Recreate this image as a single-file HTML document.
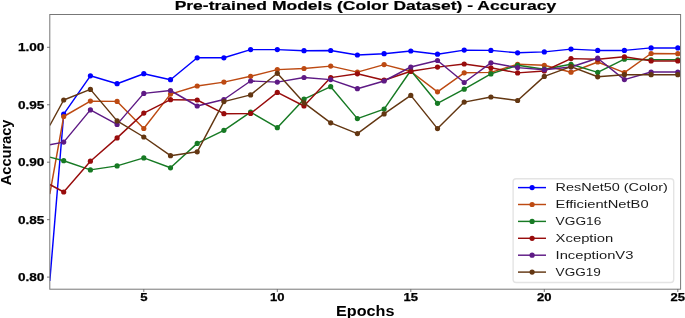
<!DOCTYPE html>
<html><head><meta charset="utf-8"><style>
html,body{margin:0;padding:0;background:#fff;width:685px;height:318px;overflow:hidden}
svg{display:block;will-change:transform}
text{font-family:"Liberation Sans",sans-serif}
</style></head><body>
<svg width="685" height="318" viewBox="0 0 685 318">
<rect width="685" height="318" fill="#fff"/>
<defs><clipPath id="ax"><rect x="49.8" y="14.5" width="630.8000000000001" height="274.7"/></clipPath></defs>
<g clip-path="url(#ax)">
<polyline points="49.80,281.00 63.70,114.20 90.40,75.80 117.10,83.70 143.80,73.70 170.50,79.70 197.20,57.80 223.90,57.80 250.60,49.60 277.30,49.60 304.00,50.70 330.70,50.50 357.40,55.00 384.10,53.70 410.80,51.00 437.50,54.20 464.20,50.10 490.90,50.40 517.60,52.80 544.30,51.90 571.00,49.10 597.70,50.40 624.40,50.40 651.10,47.90 677.80,47.90" fill="none" stroke="#0000ff" stroke-width="1.45" stroke-linejoin="round" stroke-linecap="butt"/>
<circle cx="63.7" cy="114.2" r="2.6" fill="#0000ff"/><circle cx="90.4" cy="75.8" r="2.6" fill="#0000ff"/><circle cx="117.1" cy="83.7" r="2.6" fill="#0000ff"/><circle cx="143.8" cy="73.7" r="2.6" fill="#0000ff"/><circle cx="170.5" cy="79.7" r="2.6" fill="#0000ff"/><circle cx="197.2" cy="57.8" r="2.6" fill="#0000ff"/><circle cx="223.9" cy="57.8" r="2.6" fill="#0000ff"/><circle cx="250.6" cy="49.6" r="2.6" fill="#0000ff"/><circle cx="277.3" cy="49.6" r="2.6" fill="#0000ff"/><circle cx="304.0" cy="50.7" r="2.6" fill="#0000ff"/><circle cx="330.7" cy="50.5" r="2.6" fill="#0000ff"/><circle cx="357.4" cy="55.0" r="2.6" fill="#0000ff"/><circle cx="384.1" cy="53.7" r="2.6" fill="#0000ff"/><circle cx="410.8" cy="51.0" r="2.6" fill="#0000ff"/><circle cx="437.5" cy="54.2" r="2.6" fill="#0000ff"/><circle cx="464.2" cy="50.1" r="2.6" fill="#0000ff"/><circle cx="490.9" cy="50.4" r="2.6" fill="#0000ff"/><circle cx="517.6" cy="52.8" r="2.6" fill="#0000ff"/><circle cx="544.3" cy="51.9" r="2.6" fill="#0000ff"/><circle cx="571.0" cy="49.1" r="2.6" fill="#0000ff"/><circle cx="597.7" cy="50.4" r="2.6" fill="#0000ff"/><circle cx="624.4" cy="50.4" r="2.6" fill="#0000ff"/><circle cx="651.1" cy="47.9" r="2.6" fill="#0000ff"/><circle cx="677.8" cy="47.9" r="2.6" fill="#0000ff"/>

<polyline points="49.80,194.00 63.70,116.50 90.40,101.10 117.10,101.40 143.80,128.50 170.50,94.10 197.20,86.00 223.90,82.10 250.60,76.30 277.30,69.60 304.00,68.50 330.70,66.10 357.40,72.10 384.10,64.60 410.80,71.50 437.50,91.80 464.20,72.80 490.90,72.40 517.60,64.30 544.30,65.30 571.00,72.20 597.70,62.00 624.40,72.60 651.10,53.50 677.80,53.70" fill="none" stroke="#bd4a12" stroke-width="1.45" stroke-linejoin="round" stroke-linecap="butt"/>
<circle cx="63.7" cy="116.5" r="2.6" fill="#bd4a12"/><circle cx="90.4" cy="101.1" r="2.6" fill="#bd4a12"/><circle cx="117.1" cy="101.4" r="2.6" fill="#bd4a12"/><circle cx="143.8" cy="128.5" r="2.6" fill="#bd4a12"/><circle cx="170.5" cy="94.1" r="2.6" fill="#bd4a12"/><circle cx="197.2" cy="86.0" r="2.6" fill="#bd4a12"/><circle cx="223.9" cy="82.1" r="2.6" fill="#bd4a12"/><circle cx="250.6" cy="76.3" r="2.6" fill="#bd4a12"/><circle cx="277.3" cy="69.6" r="2.6" fill="#bd4a12"/><circle cx="304.0" cy="68.5" r="2.6" fill="#bd4a12"/><circle cx="330.7" cy="66.1" r="2.6" fill="#bd4a12"/><circle cx="357.4" cy="72.1" r="2.6" fill="#bd4a12"/><circle cx="384.1" cy="64.6" r="2.6" fill="#bd4a12"/><circle cx="410.8" cy="71.5" r="2.6" fill="#bd4a12"/><circle cx="437.5" cy="91.8" r="2.6" fill="#bd4a12"/><circle cx="464.2" cy="72.8" r="2.6" fill="#bd4a12"/><circle cx="490.9" cy="72.4" r="2.6" fill="#bd4a12"/><circle cx="517.6" cy="64.3" r="2.6" fill="#bd4a12"/><circle cx="544.3" cy="65.3" r="2.6" fill="#bd4a12"/><circle cx="571.0" cy="72.2" r="2.6" fill="#bd4a12"/><circle cx="597.7" cy="62.0" r="2.6" fill="#bd4a12"/><circle cx="624.4" cy="72.6" r="2.6" fill="#bd4a12"/><circle cx="651.1" cy="53.5" r="2.6" fill="#bd4a12"/><circle cx="677.8" cy="53.7" r="2.6" fill="#bd4a12"/>

<polyline points="49.80,157.10 63.70,160.70 90.40,169.90 117.10,165.90 143.80,157.90 170.50,167.80 197.20,143.40 223.90,130.30 250.60,112.10 277.30,127.70 304.00,99.20 330.70,86.70 357.40,118.60 384.10,109.10 410.80,70.50 437.50,103.30 464.20,89.20 490.90,73.90 517.60,65.30 544.30,69.20 571.00,64.30 597.70,72.40 624.40,59.20 651.10,59.80 677.80,59.80" fill="none" stroke="#177a24" stroke-width="1.45" stroke-linejoin="round" stroke-linecap="butt"/>
<circle cx="63.7" cy="160.7" r="2.6" fill="#177a24"/><circle cx="90.4" cy="169.9" r="2.6" fill="#177a24"/><circle cx="117.1" cy="165.9" r="2.6" fill="#177a24"/><circle cx="143.8" cy="157.9" r="2.6" fill="#177a24"/><circle cx="170.5" cy="167.8" r="2.6" fill="#177a24"/><circle cx="197.2" cy="143.4" r="2.6" fill="#177a24"/><circle cx="223.9" cy="130.3" r="2.6" fill="#177a24"/><circle cx="250.6" cy="112.1" r="2.6" fill="#177a24"/><circle cx="277.3" cy="127.7" r="2.6" fill="#177a24"/><circle cx="304.0" cy="99.2" r="2.6" fill="#177a24"/><circle cx="330.7" cy="86.7" r="2.6" fill="#177a24"/><circle cx="357.4" cy="118.6" r="2.6" fill="#177a24"/><circle cx="384.1" cy="109.1" r="2.6" fill="#177a24"/><circle cx="410.8" cy="70.5" r="2.6" fill="#177a24"/><circle cx="437.5" cy="103.3" r="2.6" fill="#177a24"/><circle cx="464.2" cy="89.2" r="2.6" fill="#177a24"/><circle cx="490.9" cy="73.9" r="2.6" fill="#177a24"/><circle cx="517.6" cy="65.3" r="2.6" fill="#177a24"/><circle cx="544.3" cy="69.2" r="2.6" fill="#177a24"/><circle cx="571.0" cy="64.3" r="2.6" fill="#177a24"/><circle cx="597.7" cy="72.4" r="2.6" fill="#177a24"/><circle cx="624.4" cy="59.2" r="2.6" fill="#177a24"/><circle cx="651.1" cy="59.8" r="2.6" fill="#177a24"/><circle cx="677.8" cy="59.8" r="2.6" fill="#177a24"/>

<polyline points="49.80,184.50 63.70,192.00 90.40,161.20 117.10,137.90 143.80,113.10 170.50,99.70 197.20,100.00 223.90,113.70 250.60,113.50 277.30,92.40 304.00,106.00 330.70,77.60 357.40,73.80 384.10,80.20 410.80,71.30 437.50,67.10 464.20,64.00 490.90,67.80 517.60,72.90 544.30,71.00 571.00,58.60 597.70,59.20 624.40,56.80 651.10,60.90 677.80,60.90" fill="none" stroke="#980c0c" stroke-width="1.45" stroke-linejoin="round" stroke-linecap="butt"/>
<circle cx="63.7" cy="192.0" r="2.6" fill="#980c0c"/><circle cx="90.4" cy="161.2" r="2.6" fill="#980c0c"/><circle cx="117.1" cy="137.9" r="2.6" fill="#980c0c"/><circle cx="143.8" cy="113.1" r="2.6" fill="#980c0c"/><circle cx="170.5" cy="99.7" r="2.6" fill="#980c0c"/><circle cx="197.2" cy="100.0" r="2.6" fill="#980c0c"/><circle cx="223.9" cy="113.7" r="2.6" fill="#980c0c"/><circle cx="250.6" cy="113.5" r="2.6" fill="#980c0c"/><circle cx="277.3" cy="92.4" r="2.6" fill="#980c0c"/><circle cx="304.0" cy="106.0" r="2.6" fill="#980c0c"/><circle cx="330.7" cy="77.6" r="2.6" fill="#980c0c"/><circle cx="357.4" cy="73.8" r="2.6" fill="#980c0c"/><circle cx="384.1" cy="80.2" r="2.6" fill="#980c0c"/><circle cx="410.8" cy="71.3" r="2.6" fill="#980c0c"/><circle cx="437.5" cy="67.1" r="2.6" fill="#980c0c"/><circle cx="464.2" cy="64.0" r="2.6" fill="#980c0c"/><circle cx="490.9" cy="67.8" r="2.6" fill="#980c0c"/><circle cx="517.6" cy="72.9" r="2.6" fill="#980c0c"/><circle cx="544.3" cy="71.0" r="2.6" fill="#980c0c"/><circle cx="571.0" cy="58.6" r="2.6" fill="#980c0c"/><circle cx="597.7" cy="59.2" r="2.6" fill="#980c0c"/><circle cx="624.4" cy="56.8" r="2.6" fill="#980c0c"/><circle cx="651.1" cy="60.9" r="2.6" fill="#980c0c"/><circle cx="677.8" cy="60.9" r="2.6" fill="#980c0c"/>

<polyline points="49.80,144.70 63.70,142.10 90.40,109.90 117.10,124.40 143.80,93.40 170.50,90.50 197.20,106.00 223.90,99.50 250.60,81.00 277.30,82.10 304.00,77.50 330.70,79.60 357.40,88.70 384.10,81.00 410.80,67.00 437.50,60.50 464.20,82.50 490.90,62.80 517.60,67.60 544.30,69.70 571.00,67.00 597.70,58.20 624.40,79.60 651.10,72.00 677.80,72.00" fill="none" stroke="#5e1a85" stroke-width="1.45" stroke-linejoin="round" stroke-linecap="butt"/>
<circle cx="63.7" cy="142.1" r="2.6" fill="#5e1a85"/><circle cx="90.4" cy="109.9" r="2.6" fill="#5e1a85"/><circle cx="117.1" cy="124.4" r="2.6" fill="#5e1a85"/><circle cx="143.8" cy="93.4" r="2.6" fill="#5e1a85"/><circle cx="170.5" cy="90.5" r="2.6" fill="#5e1a85"/><circle cx="197.2" cy="106.0" r="2.6" fill="#5e1a85"/><circle cx="223.9" cy="99.5" r="2.6" fill="#5e1a85"/><circle cx="250.6" cy="81.0" r="2.6" fill="#5e1a85"/><circle cx="277.3" cy="82.1" r="2.6" fill="#5e1a85"/><circle cx="304.0" cy="77.5" r="2.6" fill="#5e1a85"/><circle cx="330.7" cy="79.6" r="2.6" fill="#5e1a85"/><circle cx="357.4" cy="88.7" r="2.6" fill="#5e1a85"/><circle cx="384.1" cy="81.0" r="2.6" fill="#5e1a85"/><circle cx="410.8" cy="67.0" r="2.6" fill="#5e1a85"/><circle cx="437.5" cy="60.5" r="2.6" fill="#5e1a85"/><circle cx="464.2" cy="82.5" r="2.6" fill="#5e1a85"/><circle cx="490.9" cy="62.8" r="2.6" fill="#5e1a85"/><circle cx="517.6" cy="67.6" r="2.6" fill="#5e1a85"/><circle cx="544.3" cy="69.7" r="2.6" fill="#5e1a85"/><circle cx="571.0" cy="67.0" r="2.6" fill="#5e1a85"/><circle cx="597.7" cy="58.2" r="2.6" fill="#5e1a85"/><circle cx="624.4" cy="79.6" r="2.6" fill="#5e1a85"/><circle cx="651.1" cy="72.0" r="2.6" fill="#5e1a85"/><circle cx="677.8" cy="72.0" r="2.6" fill="#5e1a85"/>

<polyline points="49.80,125.50 63.70,100.00 90.40,89.40 117.10,120.90 143.80,137.00 170.50,155.70 197.20,151.80 223.90,101.60 250.60,94.90 277.30,73.30 304.00,102.80 330.70,122.80 357.40,133.60 384.10,113.90 410.80,95.40 437.50,128.60 464.20,102.10 490.90,97.00 517.60,100.50 544.30,76.40 571.00,66.60 597.70,76.80 624.40,74.70 651.10,74.70 677.80,74.70" fill="none" stroke="#633712" stroke-width="1.45" stroke-linejoin="round" stroke-linecap="butt"/>
<circle cx="63.7" cy="100.0" r="2.6" fill="#633712"/><circle cx="90.4" cy="89.4" r="2.6" fill="#633712"/><circle cx="117.1" cy="120.9" r="2.6" fill="#633712"/><circle cx="143.8" cy="137.0" r="2.6" fill="#633712"/><circle cx="170.5" cy="155.7" r="2.6" fill="#633712"/><circle cx="197.2" cy="151.8" r="2.6" fill="#633712"/><circle cx="223.9" cy="101.6" r="2.6" fill="#633712"/><circle cx="250.6" cy="94.9" r="2.6" fill="#633712"/><circle cx="277.3" cy="73.3" r="2.6" fill="#633712"/><circle cx="304.0" cy="102.8" r="2.6" fill="#633712"/><circle cx="330.7" cy="122.8" r="2.6" fill="#633712"/><circle cx="357.4" cy="133.6" r="2.6" fill="#633712"/><circle cx="384.1" cy="113.9" r="2.6" fill="#633712"/><circle cx="410.8" cy="95.4" r="2.6" fill="#633712"/><circle cx="437.5" cy="128.6" r="2.6" fill="#633712"/><circle cx="464.2" cy="102.1" r="2.6" fill="#633712"/><circle cx="490.9" cy="97.0" r="2.6" fill="#633712"/><circle cx="517.6" cy="100.5" r="2.6" fill="#633712"/><circle cx="544.3" cy="76.4" r="2.6" fill="#633712"/><circle cx="571.0" cy="66.6" r="2.6" fill="#633712"/><circle cx="597.7" cy="76.8" r="2.6" fill="#633712"/><circle cx="624.4" cy="74.7" r="2.6" fill="#633712"/><circle cx="651.1" cy="74.7" r="2.6" fill="#633712"/><circle cx="677.8" cy="74.7" r="2.6" fill="#633712"/>

</g>
<rect x="49.8" y="14.5" width="630.8" height="274.7" fill="none" stroke="#777" stroke-width="1"/>
<line x1="47.0" y1="47.3" x2="49.8" y2="47.3" stroke="#555" stroke-width="0.8"/>
<line x1="47.0" y1="104.75" x2="49.8" y2="104.75" stroke="#555" stroke-width="0.8"/>
<line x1="47.0" y1="162.2" x2="49.8" y2="162.2" stroke="#555" stroke-width="0.8"/>
<line x1="47.0" y1="219.65" x2="49.8" y2="219.65" stroke="#555" stroke-width="0.8"/>
<line x1="47.0" y1="277.1" x2="49.8" y2="277.1" stroke="#555" stroke-width="0.8"/>
<line x1="143.8" y1="289.2" x2="143.8" y2="292.0" stroke="#555" stroke-width="0.8"/>
<line x1="277.3" y1="289.2" x2="277.3" y2="292.0" stroke="#555" stroke-width="0.8"/>
<line x1="410.8" y1="289.2" x2="410.8" y2="292.0" stroke="#555" stroke-width="0.8"/>
<line x1="544.3" y1="289.2" x2="544.3" y2="292.0" stroke="#555" stroke-width="0.8"/>
<line x1="677.8" y1="289.2" x2="677.8" y2="292.0" stroke="#555" stroke-width="0.8"/>
<text x="44.4" y="51.2" font-family="Liberation Sans, sans-serif" font-weight="bold" font-size="10.5" text-anchor="end" textLength="26.4" lengthAdjust="spacingAndGlyphs" fill="#000" stroke="#000" stroke-width="0.25">1.00</text>
<text x="44.4" y="108.7" font-family="Liberation Sans, sans-serif" font-weight="bold" font-size="10.5" text-anchor="end" textLength="26.4" lengthAdjust="spacingAndGlyphs" fill="#000" stroke="#000" stroke-width="0.25">0.95</text>
<text x="44.4" y="166.1" font-family="Liberation Sans, sans-serif" font-weight="bold" font-size="10.5" text-anchor="end" textLength="26.4" lengthAdjust="spacingAndGlyphs" fill="#000" stroke="#000" stroke-width="0.25">0.90</text>
<text x="44.4" y="223.6" font-family="Liberation Sans, sans-serif" font-weight="bold" font-size="10.5" text-anchor="end" textLength="26.4" lengthAdjust="spacingAndGlyphs" fill="#000" stroke="#000" stroke-width="0.25">0.85</text>
<text x="44.4" y="281.0" font-family="Liberation Sans, sans-serif" font-weight="bold" font-size="10.5" text-anchor="end" textLength="26.4" lengthAdjust="spacingAndGlyphs" fill="#000" stroke="#000" stroke-width="0.25">0.80</text>
<text x="143.8" y="300.9" font-family="Liberation Sans, sans-serif" font-weight="bold" font-size="10.5" text-anchor="middle" textLength="7.3" lengthAdjust="spacingAndGlyphs" fill="#000" stroke="#000" stroke-width="0.25">5</text>
<text x="277.3" y="300.9" font-family="Liberation Sans, sans-serif" font-weight="bold" font-size="10.5" text-anchor="middle" textLength="14.5" lengthAdjust="spacingAndGlyphs" fill="#000" stroke="#000" stroke-width="0.25">10</text>
<text x="410.8" y="300.9" font-family="Liberation Sans, sans-serif" font-weight="bold" font-size="10.5" text-anchor="middle" textLength="14.5" lengthAdjust="spacingAndGlyphs" fill="#000" stroke="#000" stroke-width="0.25">15</text>
<text x="544.3" y="300.9" font-family="Liberation Sans, sans-serif" font-weight="bold" font-size="10.5" text-anchor="middle" textLength="14.5" lengthAdjust="spacingAndGlyphs" fill="#000" stroke="#000" stroke-width="0.25">20</text>
<text x="677.8" y="300.9" font-family="Liberation Sans, sans-serif" font-weight="bold" font-size="10.5" text-anchor="middle" textLength="14.5" lengthAdjust="spacingAndGlyphs" fill="#000" stroke="#000" stroke-width="0.25">25</text>
<text x="365.4" y="10.45" font-family="Liberation Sans, sans-serif" font-weight="bold" font-size="13.6" text-anchor="middle" textLength="381.5" lengthAdjust="spacingAndGlyphs" fill="#000" stroke="#000" stroke-width="0.2">Pre-trained Models (Color Dataset) - Accuracy</text>
<text x="365.2" y="316.45" font-family="Liberation Sans, sans-serif" font-weight="bold" font-size="14" text-anchor="middle" textLength="58.4" lengthAdjust="spacingAndGlyphs" fill="#000">Epochs</text>
<text transform="translate(10.9,152.4) rotate(-90)" x="0" y="0" font-family="Liberation Sans, sans-serif" font-weight="bold" font-size="14.3" text-anchor="middle" textLength="65.8" lengthAdjust="spacingAndGlyphs" fill="#000">Accuracy</text>
<rect x="513.1" y="178.7" width="160.6" height="103.8" rx="3" ry="3" fill="#fff" fill-opacity="0.8" stroke="#e4e4e4" stroke-width="1.4"/>
<line x1="518" y1="187.6" x2="546" y2="187.6" stroke="#0000ff" stroke-width="1.45"/>
<circle cx="532.1" cy="187.6" r="2.6" fill="#0000ff"/>
<text x="555.6" y="191.45" font-family="Liberation Sans, sans-serif" font-size="11.1" textLength="112.2" lengthAdjust="spacingAndGlyphs" fill="#1a1a1a">ResNet50 (Color)</text>
<line x1="518" y1="204.5" x2="546" y2="204.5" stroke="#bd4a12" stroke-width="1.45"/>
<circle cx="532.1" cy="204.5" r="2.6" fill="#bd4a12"/>
<text x="555.6" y="208.35" font-family="Liberation Sans, sans-serif" font-size="11.1" textLength="93.0" lengthAdjust="spacingAndGlyphs" fill="#1a1a1a">EfficientNetB0</text>
<line x1="518" y1="221.4" x2="546" y2="221.4" stroke="#177a24" stroke-width="1.45"/>
<circle cx="532.1" cy="221.4" r="2.6" fill="#177a24"/>
<text x="555.6" y="225.25" font-family="Liberation Sans, sans-serif" font-size="11.1" textLength="45.8" lengthAdjust="spacingAndGlyphs" fill="#1a1a1a">VGG16</text>
<line x1="518" y1="238.3" x2="546" y2="238.3" stroke="#980c0c" stroke-width="1.45"/>
<circle cx="532.1" cy="238.3" r="2.6" fill="#980c0c"/>
<text x="555.6" y="242.15" font-family="Liberation Sans, sans-serif" font-size="11.1" textLength="57.7" lengthAdjust="spacingAndGlyphs" fill="#1a1a1a">Xception</text>
<line x1="518" y1="255.2" x2="546" y2="255.2" stroke="#5e1a85" stroke-width="1.45"/>
<circle cx="532.1" cy="255.2" r="2.6" fill="#5e1a85"/>
<text x="555.6" y="259.05" font-family="Liberation Sans, sans-serif" font-size="11.1" textLength="77.8" lengthAdjust="spacingAndGlyphs" fill="#1a1a1a">InceptionV3</text>
<line x1="518" y1="272.1" x2="546" y2="272.1" stroke="#633712" stroke-width="1.45"/>
<circle cx="532.1" cy="272.1" r="2.6" fill="#633712"/>
<text x="555.6" y="275.95" font-family="Liberation Sans, sans-serif" font-size="11.1" textLength="45.3" lengthAdjust="spacingAndGlyphs" fill="#1a1a1a">VGG19</text>
</svg>
</body></html>
